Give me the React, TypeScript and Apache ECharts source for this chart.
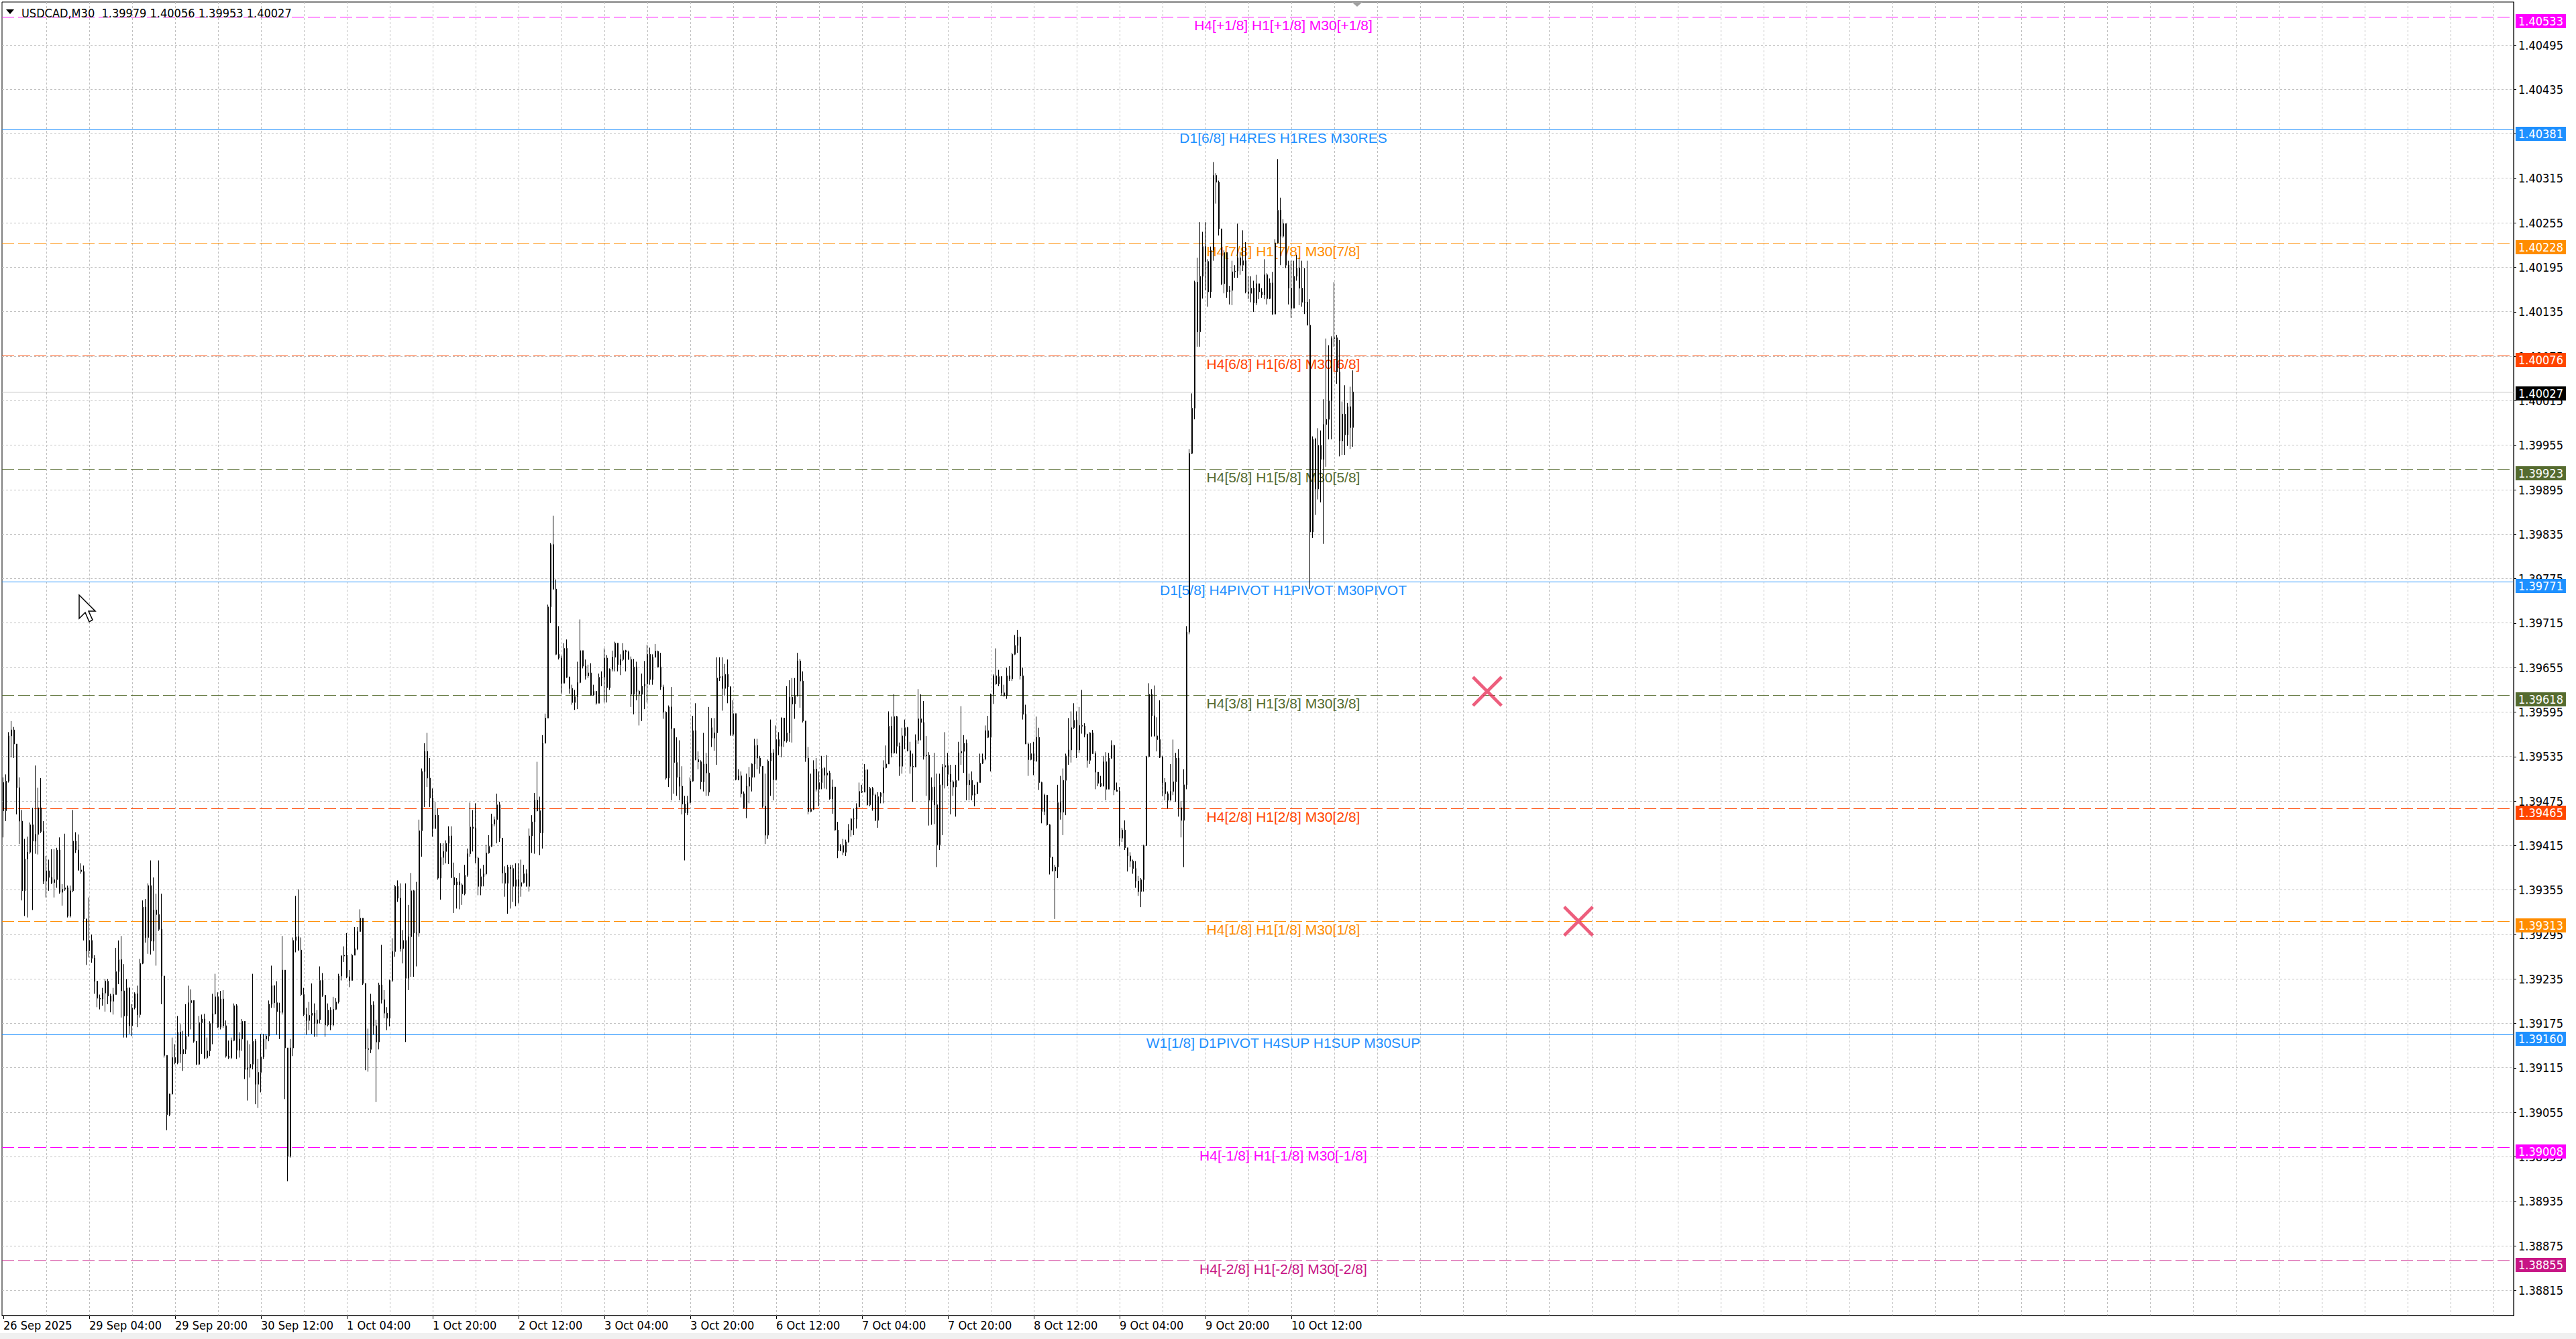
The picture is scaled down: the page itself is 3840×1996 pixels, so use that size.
import React, { useEffect, useRef } from 'react';
import * as echarts from 'echarts';

// ---------- DATA ----------
const SYMBOL = 'USDCAD,M30';
const PRICE_BASE = 1.38; // prices below are in points (0.00001) above this base
const POINT = 0.00001;
const FIRST_OPEN = 1500;
const openOverrides: Record<number, number> = { 264: 1574 }; // weekend gap

const closes = [
  1462,1502,1563,1571,1552,1493,1448,1354,1397,1406,
  1443,1421,1430,1466,1434,1367,1381,1372,1365,1369,
  1409,1352,1356,1358,1320,1354,1421,1409,1382,1380,
  1316,1273,1287,1263,1232,1209,1208,1216,1232,1212,
  1205,1214,1245,1261,1219,1185,1223,1172,1196,1215,
  1187,1256,1332,1291,1361,1286,1328,1322,1302,1239,
  1132,1052,1080,1129,1122,1163,1134,1140,1158,1203,
  1206,1151,1120,1176,1181,1129,1138,1175,1188,1211,
  1170,1208,1172,1131,1129,1152,1199,1139,1154,1178,
  1113,1115,1120,1151,1093,1109,1130,1154,1158,1201,
  1226,1203,1191,1190,1247,1142,996,1142,1287,1292,
  1274,1214,1187,1179,1186,1189,1175,1180,1233,1213,
  1173,1193,1173,1194,1204,1239,1266,1267,1238,1233,
  1267,1276,1299,1317,1229,1141,1140,1200,1172,1150,
  1227,1207,1189,1182,1233,1272,1360,1344,1276,1287,
  1236,1292,1354,1297,1297,1435,1515,1542,1506,1479,
  1438,1456,1371,1399,1407,1418,1428,1372,1362,1366,
  1362,1350,1375,1404,1440,1438,1398,1360,1373,1377,
  1405,1414,1444,1450,1470,1425,1378,1364,1386,1384,
  1360,1369,1360,1365,1377,1360,1428,1447,1476,1462,
  1432,1553,1587,1737,1821,1761,1673,1668,1634,1681,
  1642,1627,1608,1616,1635,1678,1657,1644,1648,1618,
  1623,1607,1642,1642,1668,1628,1653,1669,1688,1659,
  1666,1678,1676,1666,1619,1656,1623,1619,1630,1633,
  1673,1639,1669,1677,1656,1629,1595,1506,1602,1573,
  1527,1507,1495,1471,1459,1473,1502,1570,1531,1528,
  1501,1525,1513,1487,1560,1567,1641,1643,1627,1646,
  1629,1565,1593,1504,1509,1485,1466,1495,1507,1525,
  1550,1533,1522,1468,1429,1529,1540,1504,1558,1549,
  1587,1556,1567,1615,1606,1617,1664,1637,1583,1533,
  1461,1464,1518,1491,1500,1519,1510,1513,1478,1494,
  1436,1408,1415,1406,1420,1436,1451,1451,1467,1488,
  1487,1517,1470,1492,1483,1449,1481,1486,1520,1525,
  1576,1540,1589,1549,1522,1563,1574,1543,1522,1521,
  1557,1586,1581,1536,1537,1476,1494,1470,1416,1497,
  1521,1523,1511,1501,1494,1503,1540,1542,1553,1497,
  1503,1483,1485,1500,1526,1532,1570,1561,1619,1644,
  1633,1643,1621,1617,1644,1640,1673,1685,1696,1644,
  1592,1552,1531,1539,1529,1561,1500,1461,1483,1443,
  1399,1381,1386,1473,1460,1503,1536,1544,1574,1584,
  1544,1577,1576,1565,1530,1567,1539,1514,1499,1495,
  1528,1491,1533,1550,1490,1488,1425,1436,1412,1401,
  1394,1384,1367,1353,1369,1415,1535,1619,1590,1563,
  1558,1534,1500,1485,1476,1488,1501,1533,1466,1449,
  1497,1703,1944,2005,2175,2108,2183,2223,2203,2162,
  2218,2319,2310,2247,2173,2215,2162,2164,2189,2190,
  2208,2198,2204,2162,2160,2167,2147,2173,2162,2158,
  2185,2153,2174,2132,2228,2272,2237,2254,2198,2167,
  2140,2183,2194,2167,2148,2148,2117,1838,1963,1896,
  1955,1936,1983,1990,2015,2099,2100,2054,1961,1997,
  1969,2007,1979,2027,
];

const highs = [
  1507,1511,1568,1583,1575,1551,1507,1463,1424,1427,
  1446,1466,1523,1493,1506,1448,1401,1396,1410,1410,
  1412,1426,1363,1431,1361,1361,1463,1433,1430,1391,
  1388,1316,1345,1295,1267,1232,1214,1223,1235,1235,
  1215,1223,1277,1287,1293,1255,1235,1221,1201,1217,
  1226,1262,1341,1343,1364,1395,1372,1350,1395,1350,
  1237,1132,1080,1156,1147,1185,1174,1165,1201,1226,
  1221,1199,1151,1185,1187,1188,1156,1178,1215,1242,
  1217,1219,1220,1179,1152,1156,1202,1201,1163,1181,
  1176,1152,1147,1242,1154,1127,1161,1161,1161,1206,
  1253,1226,1232,1203,1293,1247,1142,1154,1291,1347,
  1356,1291,1223,1196,1204,1229,1202,1193,1252,1243,
  1202,1202,1197,1211,1209,1242,1267,1279,1297,1247,
  1269,1305,1305,1329,1317,1229,1168,1215,1205,1180,
  1230,1281,1220,1197,1234,1290,1362,1368,1364,1301,
  1364,1335,1378,1355,1366,1450,1519,1553,1567,1533,
  1492,1474,1465,1418,1418,1422,1441,1441,1392,1371,
  1378,1364,1389,1411,1473,1463,1472,1400,1384,1389,
  1416,1429,1458,1454,1485,1474,1425,1387,1389,1389,
  1389,1391,1391,1396,1389,1383,1438,1456,1486,1528,
  1481,1564,1593,1740,1823,1860,1774,1711,1671,1688,
  1693,1643,1632,1625,1663,1720,1666,1666,1659,1661,
  1632,1621,1647,1650,1681,1672,1654,1678,1690,1688,
  1673,1688,1679,1678,1670,1667,1663,1625,1647,1664,
  1686,1682,1673,1687,1678,1675,1632,1596,1604,1629,
  1561,1561,1557,1522,1482,1482,1507,1590,1607,1542,
  1530,1567,1540,1602,1587,1587,1669,1669,1669,1660,
  1666,1630,1611,1593,1518,1515,1488,1512,1521,1526,
  1559,1559,1536,1522,1512,1531,1585,1545,1577,1568,
  1588,1587,1630,1638,1641,1641,1675,1667,1650,1583,
  1548,1512,1530,1533,1515,1536,1521,1537,1516,1504,
  1486,1447,1417,1424,1423,1444,1452,1465,1472,1500,
  1497,1525,1518,1494,1494,1485,1487,1487,1530,1550,
  1596,1589,1619,1590,1554,1574,1585,1575,1555,1539,
  1565,1626,1619,1610,1563,1541,1507,1540,1512,1512,
  1525,1568,1540,1524,1503,1524,1555,1603,1564,1558,
  1512,1515,1497,1501,1539,1539,1577,1590,1620,1646,
  1681,1652,1641,1632,1655,1657,1675,1699,1706,1697,
  1655,1605,1554,1553,1555,1589,1574,1501,1485,1483,
  1444,1400,1389,1497,1509,1519,1539,1587,1596,1607,
  1596,1602,1625,1580,1566,1568,1571,1542,1506,1509,
  1536,1541,1540,1557,1551,1500,1494,1439,1449,1412,
  1406,1396,1394,1374,1371,1416,1536,1634,1626,1631,
  1588,1611,1536,1506,1488,1525,1558,1540,1545,1475,
  1518,1711,1950,2025,2177,2208,2256,2243,2256,2206,
  2223,2337,2322,2312,2241,2218,2166,2170,2204,2198,
  2254,2216,2245,2229,2183,2183,2177,2185,2173,2167,
  2206,2187,2180,2189,2233,2341,2289,2260,2254,2204,
  2204,2204,2212,2208,2204,2194,2204,2152,1967,1965,
  1978,1975,2017,2099,2090,2102,2175,2104,2097,2014,
  2036,2012,2034,2056,
];

const lows = [
  1426,1448,1500,1534,1533,1457,1417,1341,1320,1318,
  1404,1328,1404,1403,1432,1363,1345,1354,1363,1345,
  1358,1350,1334,1354,1318,1318,1352,1405,1381,1377,
  1287,1254,1264,1257,1215,1197,1194,1199,1191,1201,
  1190,1187,1215,1228,1183,1156,1156,1161,1158,1194,
  1170,1183,1255,1284,1269,1268,1273,1253,1300,1201,
  1129,1031,1050,1079,1120,1120,1122,1111,1134,1157,
  1167,1149,1119,1119,1134,1127,1127,1131,1147,1187,
  1169,1167,1169,1129,1127,1127,1151,1127,1129,1138,
  1100,1071,1102,1113,1066,1061,1082,1127,1140,1151,
  1196,1196,1160,1154,1187,1073,962,994,1131,1271,
  1273,1212,1185,1160,1166,1161,1157,1157,1175,1211,
  1157,1171,1166,1171,1193,1202,1233,1258,1236,1224,
  1233,1267,1274,1299,1227,1112,1110,1135,1160,1069,
  1140,1202,1182,1166,1171,1231,1265,1339,1272,1256,
  1150,1220,1238,1238,1252,1292,1400,1467,1494,1467,
  1427,1438,1369,1342,1389,1391,1390,1371,1324,1330,
  1329,1335,1348,1373,1400,1407,1391,1348,1348,1360,
  1375,1404,1413,1441,1418,1420,1364,1346,1323,1330,
  1339,1333,1337,1346,1364,1360,1353,1405,1404,1461,
  1402,1411,1553,1587,1715,1760,1672,1666,1620,1634,
  1641,1620,1605,1598,1599,1634,1654,1639,1641,1617,
  1617,1605,1607,1630,1608,1608,1625,1650,1650,1650,
  1645,1664,1650,1666,1602,1592,1611,1577,1583,1599,
  1608,1632,1632,1669,1655,1625,1586,1504,1494,1476,
  1485,1482,1476,1457,1395,1456,1472,1501,1530,1518,
  1491,1488,1482,1482,1548,1543,1524,1637,1597,1617,
  1607,1563,1563,1503,1503,1480,1465,1452,1472,1488,
  1507,1518,1512,1466,1417,1424,1482,1476,1503,1537,
  1534,1548,1554,1555,1554,1586,1616,1601,1581,1528,
  1457,1460,1463,1488,1468,1491,1492,1491,1477,1458,
  1435,1398,1409,1402,1401,1419,1427,1429,1438,1467,
  1486,1487,1469,1468,1462,1448,1439,1472,1472,1519,
  1525,1534,1539,1539,1509,1512,1545,1542,1512,1474,
  1521,1552,1557,1531,1482,1442,1443,1444,1386,1409,
  1429,1492,1495,1457,1482,1454,1503,1524,1513,1476,
  1476,1476,1468,1485,1506,1525,1530,1560,1515,1606,
  1632,1630,1617,1616,1613,1637,1637,1672,1675,1639,
  1585,1552,1509,1530,1510,1528,1490,1445,1456,1442,
  1376,1380,1316,1371,1450,1429,1456,1524,1527,1572,
  1533,1540,1566,1561,1520,1525,1539,1491,1495,1494,
  1506,1476,1497,1532,1483,1488,1414,1420,1409,1380,
  1386,1377,1358,1347,1332,1353,1415,1534,1562,1562,
  1542,1533,1482,1476,1465,1476,1483,1474,1454,1426,
  1386,1491,1700,1943,1990,2088,2088,2153,2164,2142,
  2154,2204,2281,2238,2171,2160,2154,2145,2144,2181,
  2181,2185,2190,2160,2152,2148,2135,2144,2152,2154,
  2152,2145,2152,2131,2133,2227,2198,2235,2194,2145,
  2127,2140,2177,2144,2142,2132,2117,1761,1830,1861,
  1882,1878,1822,1926,1963,1963,2088,2038,1940,1942,
  1942,1954,1950,1953,
];

const dateTicks = [
  '26 Sep 2025', '29 Sep 04:00', '29 Sep 20:00', '30 Sep 12:00', '1 Oct 04:00', '1 Oct 20:00',
  '2 Oct 12:00', '3 Oct 04:00', '3 Oct 20:00', '6 Oct 12:00', '7 Oct 04:00', '7 Oct 20:00',
  '8 Oct 12:00', '9 Oct 04:00', '9 Oct 20:00', '10 Oct 12:00',
];
const BARS_PER_DATE_TICK = 32;
const BARS_PER_GRID = 16;
const SLOT_COUNT = 936;

const priceTicks = [
  1.38815, 1.38875, 1.38935, 1.38995, 1.39055, 1.39115, 1.39175, 1.39235, 1.39295, 1.39355,
  1.39415, 1.39475, 1.39535, 1.39595, 1.39655, 1.39715, 1.39775, 1.39835, 1.39895, 1.39955,
  1.40015, 1.40075, 1.40135, 1.40195, 1.40255, 1.40315, 1.40375, 1.40435, 1.40495,
];
const Y_MIN = 1.38781;
const Y_MAX = 1.40553;

const levelPrices = [1.40533, 1.40381, 1.40228, 1.40076, 1.39923, 1.39771, 1.39618, 1.39465, 1.39313, 1.3916, 1.39008, 1.38855];
const levelNames = [
  'H4[+1/8] H1[+1/8] M30[+1/8]',
  'D1[6/8] H4RES H1RES M30RES',
  'H4[7/8] H1[7/8] M30[7/8]',
  'H4[6/8] H1[6/8] M30[6/8]',
  'H4[5/8] H1[5/8] M30[5/8]',
  'D1[5/8] H4PIVOT H1PIVOT M30PIVOT',
  'H4[3/8] H1[3/8] M30[3/8]',
  'H4[2/8] H1[2/8] M30[2/8]',
  'H4[1/8] H1[1/8] M30[1/8]',
  'W1[1/8] D1PIVOT H4SUP H1SUP M30SUP',
  'H4[-1/8] H1[-1/8] M30[-1/8]',
  'H4[-2/8] H1[-2/8] M30[-2/8]',
];
const levelColors = ['#FF00FF', '#1E90FF', '#FF8C00', '#FF4500', '#556B2F', '#1E90FF', '#556B2F', '#FF4500', '#FF8C00', '#1E90FF', '#FF00FF', '#C71585'];
const levelDashed = [true, false, true, true, true, false, true, true, true, false, true, true];
const LEVEL_TEXT_BAR = 477;

const crossBars = [553, 587];
const crossPrices = [1.39623, 1.39313];

// ---------- BUILD ----------
const toPrice = (v: number) => +(PRICE_BASE + v * POINT).toFixed(5);
const N = Math.min(closes.length, highs.length, lows.length);
const candleData: number[][] = [];
for (let i = 0; i < N; i++) {
  const o = i === 0 ? FIRST_OPEN : (openOverrides[i] ?? closes[i - 1]);
  const c = closes[i];
  const h = Math.max(highs[i], o, c);
  const l = Math.min(lows[i], o, c);
  candleData.push([toPrice(o), toPrice(c), toPrice(l), toPrice(h)]);
}
const last = candleData[candleData.length - 1];
const lastClose = last[1];

const AXIS_FONT = '"DejaVu Sans Condensed", "Noto Sans", sans-serif';
const LEVEL_FONT = '21px "Liberation Sans", Arial, sans-serif';
const categories = Array.from({ length: SLOT_COUNT }, (_, i) => String(i));
const isDateTick = (index: number) => index % BARS_PER_DATE_TICK === 0 && index / BARS_PER_DATE_TICK < dateTicks.length;

const vGrid: number[] = [];
for (let i = BARS_PER_GRID; i < SLOT_COUNT; i += BARS_PER_GRID) vGrid.push(i);

const crisp = (v: number) => Math.round(v - 0.5) + 0.5;

const title = `${SYMBOL}  ${last[0].toFixed(5)} ${last[3].toFixed(5)} ${last[2].toFixed(5)} ${last[1].toFixed(5)}`;

const CURSOR = [[0, 0], [0, 35], [9, 26], [15, 40], [20, 37], [14, 24], [24, 24]].map(([x, y]) => [118 + x, 887 + y]);

const priceBox = (x: number, y: number, text: string, bg: string) => ({
  type: 'text',
  x,
  y,
  z2: 20,
  style: {
    text,
    fill: '#ffffff',
    backgroundColor: bg,
    padding: [2, 4, 1, 4],
    font: `18px ${AXIS_FONT}`,
    align: 'left',
    verticalAlign: 'middle',
  },
});

const option: any = {
  animation: false,
  backgroundColor: '#ffffff',
  grid: { left: 3, top: 3, width: 3744, height: 1958, show: true, borderColor: '#000000', borderWidth: 1, backgroundColor: 'transparent' },
  xAxis: {
    type: 'category',
    data: categories,
    boundaryGap: true,
    axisLine: { show: true, lineStyle: { color: '#000000', width: 1 } },
    axisTick: { show: true, alignWithLabel: true, interval: (i: number) => isDateTick(i), length: 5, inside: false, lineStyle: { color: '#000000' } },
    axisLabel: {
      show: true,
      interval: (i: number) => isDateTick(i),
      formatter: (_v: string, index: number) => dateTicks[index / BARS_PER_DATE_TICK] ?? '',
      color: '#000000',
      fontFamily: AXIS_FONT,
      fontSize: 18,
      align: 'left',
      margin: 5,
    },
    splitLine: { show: false },
  },
  yAxis: {
    type: 'value',
    position: 'right',
    min: Y_MIN,
    max: Y_MAX,
    axisLine: { show: true, lineStyle: { color: '#000000', width: 1 } },
    axisTick: { show: true, customValues: priceTicks, length: 4, lineStyle: { color: '#000000' } },
    axisLabel: {
      show: true,
      customValues: priceTicks,
      formatter: (v: number) => v.toFixed(5),
      color: '#000000',
      fontFamily: AXIS_FONT,
      fontSize: 18,
      margin: 7,
    },
    splitLine: { show: false },
  },
  graphic: [
    { type: 'rect', silent: true, z: -1, shape: { x: 0, y: 1987, width: 3840, height: 9 }, style: { fill: '#f0f0f0' } },
    { type: 'polygon', silent: true, z: 10, shape: { points: [[9, 14], [21, 14], [15, 21]] }, style: { fill: '#000000' } },
    { type: 'text', silent: true, z: 10, x: 32, y: 19, style: { text: title, fill: '#000000', font: `18px ${AXIS_FONT}`, verticalAlign: 'middle', align: 'left' } },
    { type: 'polygon', silent: true, z: 10, shape: { points: [[2015, 3], [2031, 3], [2023, 10]] }, style: { fill: '#a0a0a0' } },
    { type: 'polygon', silent: true, z: 10, shape: { points: CURSOR }, style: { fill: '#ffffff', stroke: '#000000', lineWidth: 1.5 } },
  ],
  series: [
    {
      name: 'hgrid',
      type: 'custom',
      silent: true,
      z: 1,
      clip: false,
      encode: { x: 0, y: 1 },
      data: priceTicks.map((p) => [0, p]),
      renderItem: (params: any, api: any) => {
        const cs = params.coordSys;
        const y = crisp(api.coord([0, api.value(1)])[1]);
        return { type: 'line', shape: { x1: cs.x, y1: y, x2: cs.x + cs.width, y2: y }, style: { stroke: '#C0C0C0', lineWidth: 1, lineDash: [3, 3] } };
      },
    },
    {
      name: 'vgrid',
      type: 'custom',
      silent: true,
      z: 1,
      clip: false,
      encode: { x: 0, y: 1 },
      data: vGrid.map((i) => [i, Y_MIN]),
      renderItem: (params: any, api: any) => {
        const cs = params.coordSys;
        const x = crisp(api.coord([api.value(0), Y_MIN])[0]);
        return { type: 'line', shape: { x1: x, y1: cs.y, x2: x, y2: cs.y + cs.height }, style: { stroke: '#C0C0C0', lineWidth: 1, lineDash: [3, 3] } };
      },
    },
    {
      name: 'bid',
      type: 'custom',
      silent: true,
      z: 2,
      clip: false,
      encode: { x: 0, y: 1 },
      data: [[0, lastClose]],
      renderItem: (params: any, api: any) => {
        const cs = params.coordSys;
        const p = api.value(1);
        const y = crisp(api.coord([0, p])[1]);
        return {
          type: 'group',
          children: [
            { type: 'line', shape: { x1: cs.x, y1: y, x2: cs.x + cs.width, y2: y }, style: { stroke: '#C0C0C0', lineWidth: 1 } },
            priceBox(cs.x + cs.width + 3, y + 2, p.toFixed(5), '#000000'),
          ],
        };
      },
    },
    {
      name: 'levels',
      type: 'custom',
      silent: true,
      z: 2,
      clip: false,
      encode: { x: 0, y: 1 },
      data: levelPrices.map((p, k) => [LEVEL_TEXT_BAR, p, k]),
      renderItem: (params: any, api: any) => {
        const cs = params.coordSys;
        const p = api.value(1);
        const k = api.value(2);
        const pt = api.coord([api.value(0), p]);
        const y = crisp(pt[1]);
        const color = levelColors[k];
        return {
          type: 'group',
          children: [
            {
              type: 'line',
              shape: { x1: cs.x, y1: y, x2: cs.x + cs.width, y2: y },
              style: { stroke: color, lineWidth: 1, lineDash: levelDashed[k] ? [18, 6] : null },
            },
            {
              type: 'text',
              x: pt[0],
              y: y + 12,
              style: { text: levelNames[k], fill: color, font: LEVEL_FONT, align: 'center', verticalAlign: 'middle' },
            },
            priceBox(cs.x + cs.width + 3, y + 6, p.toFixed(5), color),
          ],
        };
      },
    },
    {
      name: SYMBOL,
      type: 'candlestick',
      data: candleData,
      silent: true,
      z: 3,
      barWidth: 2,
      itemStyle: {
        color: '#ffffff',
        color0: '#000000',
        borderColor: '#000000',
        borderColor0: '#000000',
        borderColorDoji: '#000000',
        borderWidth: 1,
      },
    },
    {
      name: 'stops',
      type: 'scatter',
      silent: true,
      z: 4,
      symbol: 'path://M0,1.5 L1.5,0 L10,8.5 L18.5,0 L20,1.5 L11.5,10 L20,18.5 L18.5,20 L10,11.5 L1.5,20 L0,18.5 L8.5,10 Z',
      symbolSize: 46,
      itemStyle: { color: '#E8365D' },
      data: crossBars.map((b, k) => [b, crossPrices[k]]),
    },
  ],
};

export default function App() {
  const ref = useRef<HTMLDivElement>(null);
  useEffect(() => {
    document.body.style.margin = '0';
    const chart = echarts.init(ref.current as HTMLDivElement, null, { renderer: 'svg' });
    chart.setOption(option);
    return () => chart.dispose();
  }, []);
  return <div ref={ref} style={{ position: 'absolute', left: 0, top: 0, width: 3840, height: 1996 }} />;
}
